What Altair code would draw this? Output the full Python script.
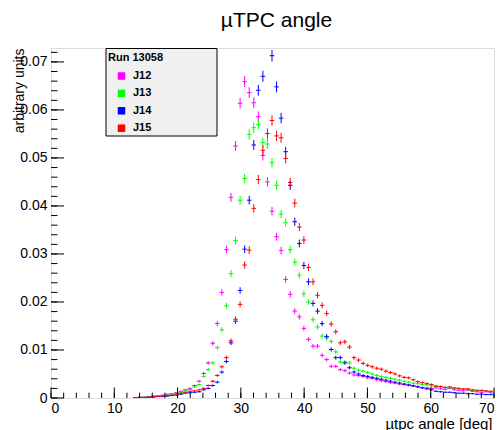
import altair as alt
import pandas as pd
import numpy as np

SERIES = ["J12", "J13", "J14", "J15"]
COLORS = ["#ff00ff", "#00ff00", "#0000ff", "#ff0000"]

# histogram bins: width 0.72 deg, bin index j -> center 0.36 + 0.72*j
BIN_WIDTH = 0.72
BIN_INDEX = list(range(18, 97))

J12 = [0.0001, 0.0002, 0.0002, 0.0003, 0.0004, 0.0005, 0.0006, 0.0008, 0.0009, 0.0011, 0.0014,
       0.0017, 0.0020, 0.0026, 0.0035, 0.0051, 0.0073, 0.0114, 0.0155, 0.0220, 0.0309, 0.0418, 0.0525,
       0.0614, 0.0659, 0.0636, 0.0615, 0.0586, 0.0505, 0.0450, 0.0389, 0.0336, 0.0307, 0.0247, 0.0216,
       0.0181, 0.0169, 0.0145, 0.0122, 0.0108, 0.0108, 0.0089, 0.0080, 0.0066, 0.0066, 0.0059, 0.0057,
       0.0052, 0.0048, 0.0047, 0.0045, 0.0042, 0.0041, 0.0038, 0.0036, 0.0034, 0.0032, 0.0031, 0.0029,
       0.0028, 0.0027, 0.0026, 0.0024, 0.0022, 0.0021, 0.0020, 0.0021, 0.0019, 0.0018, 0.0020, 0.0017,
       0.0016, 0.0015, 0.0016, 0.0014, 0.0013, 0.0012, 0.0013, 0.0011]
J13 = [0.0001, 0.0001, 0.0002, 0.0002, 0.0003, 0.0004, 0.0005, 0.0006, 0.0008, 0.0010, 0.0012,
       0.0015, 0.0018, 0.0023, 0.0028, 0.0045, 0.0059, 0.0073, 0.0105, 0.0142, 0.0192, 0.0259, 0.0328,
       0.0412, 0.0457, 0.0549, 0.0563, 0.0570, 0.0532, 0.0529, 0.0490, 0.0443, 0.0383, 0.0365, 0.0309,
       0.0283, 0.0256, 0.0217, 0.0200, 0.0163, 0.0148, 0.0129, 0.0125, 0.0118, 0.0096, 0.0075, 0.0075,
       0.0073, 0.0062, 0.0058, 0.0056, 0.0053, 0.0050, 0.0047, 0.0045, 0.0043, 0.0041, 0.0039, 0.0037,
       0.0035, 0.0033, 0.0031, 0.0030, 0.0028, 0.0027, 0.0025, 0.0024, 0.0023, 0.0022, 0.0021, 0.0020,
       0.0019, 0.0018, 0.0017, 0.0016, 0.0015, 0.0015, 0.0014, 0.0013]
J14 = [0.0001, 0.0001, 0.0001, 0.0002, 0.0002, 0.0003, 0.0003, 0.0004, 0.0005, 0.0006, 0.0008,
       0.0010, 0.0011, 0.0012, 0.0013, 0.0017, 0.0020, 0.0026, 0.0033, 0.0054, 0.0076, 0.0115, 0.0160,
       0.0224, 0.0310, 0.0412, 0.0527, 0.0641, 0.0670, 0.0745, 0.0713, 0.0648, 0.0583, 0.0513, 0.0443,
       0.0367, 0.0322, 0.0276, 0.0242, 0.0197, 0.0181, 0.0155, 0.0128, 0.0101, 0.0084, 0.0084, 0.0073,
       0.0063, 0.0054, 0.0050, 0.0047, 0.0045, 0.0043, 0.0041, 0.0039, 0.0037, 0.0035, 0.0033, 0.0031,
       0.0029, 0.0027, 0.0025, 0.0023, 0.0021, 0.0019, 0.0017, 0.0014, 0.0013, 0.0012, 0.0012, 0.0011,
       0.0010, 0.0010, 0.0009, 0.0009, 0.0008, 0.0008, 0.0007, 0.0007]
J15 = [0.0001, 0.0001, 0.0001, 0.0002, 0.0003, 0.0003, 0.0004, 0.0005, 0.0006, 0.0008, 0.0010,
       0.0012, 0.0014, 0.0015, 0.0017, 0.0020, 0.0026, 0.0035, 0.0047, 0.0065, 0.0084, 0.0119, 0.0164,
       0.0195, 0.0277, 0.0308, 0.0395, 0.0455, 0.0516, 0.0551, 0.0578, 0.0546, 0.0542, 0.0499, 0.0449,
       0.0406, 0.0356, 0.0329, 0.0272, 0.0242, 0.0214, 0.0193, 0.0176, 0.0154, 0.0138, 0.0115, 0.0117,
       0.0106, 0.0084, 0.0079, 0.0072, 0.0068, 0.0065, 0.0062, 0.0060, 0.0056, 0.0053, 0.0050, 0.0046,
       0.0043, 0.0042, 0.0038, 0.0034, 0.0032, 0.0030, 0.0028, 0.0025, 0.0024, 0.0022, 0.0023, 0.0021,
       0.0020, 0.0019, 0.0019, 0.0017, 0.0016, 0.0016, 0.0015, 0.0014]

X_MAJOR = [0, 10, 20, 30, 40, 50, 60, 70]
X_MINOR = list(range(0, 71, 2))
Y_MAJOR = [0, 0.01, 0.02, 0.03, 0.04, 0.05, 0.06, 0.07]
Y_MINOR = [i / 1000 for i in range(0, 73, 2)]

ERR_SCALE = 0.0045  # statistical error ~ sqrt(content)

rows = []
for name, vals in zip(SERIES, [J12, J13, J14, J15]):
    for j, v in zip(BIN_INDEX, vals):
        c = BIN_WIDTH / 2 + BIN_WIDTH * j
        e = ERR_SCALE * np.sqrt(v)
        rows.append(dict(series=name, c=c, x1=c - BIN_WIDTH / 2, x2=c + BIN_WIDTH / 2,
                         v=v, lo=v - e, hi=v + e))
df = pd.DataFrame(rows)

FONT = "Liberation Sans"
W, H = 443, 350
xscale = alt.Scale(domain=[0, 70], nice=False, zero=False)
yscale = alt.Scale(domain=[0, 0.0729], nice=False, zero=False)
cscale = alt.Scale(domain=SERIES, range=COLORS)

xaxis = alt.Axis(values=X_MAJOR, ticks=False, domain=False, grid=False, labelFontSize=14,
                 labelFont=FONT, labelColor="black", labelPadding=3,
                 title="µtpc angle [deg]", titleFont=FONT, titleFontSize=15, titleFontWeight="normal",
                 titleColor="black", titleX=W - 2, titleY=30, titleAlign="right",
                 titleBaseline="alphabetic")
yaxis = alt.Axis(values=Y_MAJOR, ticks=False, domain=False, grid=False, labelFontSize=14,
                 labelFont=FONT, labelColor="black", labelPadding=4,
                 labelExpr="datum.value == 0 ? '0' : format(datum.value, '.2f')",
                 title="arbitrary units", titleFont=FONT, titleFontSize=14, titleFontWeight="normal",
                 titleColor="black", titleX=-28, titleY=0, titleAngle=-90, titleAlign="right",
                 titleBaseline="alphabetic")
legend = alt.Legend(title="Run 13058", orient="none", legendX=57, legendY=4, padding=0,
                    titleFont=FONT, titleFontSize=11, titleFontWeight="bold", titleColor="black",
                    titlePadding=7.5, labelFont=FONT, labelFontSize=11, labelFontWeight="bold",
                    labelColor="black", symbolType="square", symbolSize=56, symbolStrokeWidth=0,
                    symbolOpacity=1, symbolOffset=8, labelOffset=6, rowPadding=5.4)

# legend carrier: filled squares (no data drawn) so the legend shows filled boxes
keys = alt.Chart(df).transform_filter("false").mark_square(filled=True, size=56, opacity=1).encode(
    x=alt.X("c:Q", scale=xscale, axis=xaxis),
    y=alt.Y("v:Q", scale=yscale, axis=yaxis),
    color=alt.Color("series:N", scale=cscale, legend=legend),
)
hbar = alt.Chart(df).mark_rule(strokeWidth=1, clip=True).encode(
    x=alt.X("x1:Q", scale=xscale, axis=xaxis),
    x2="x2:Q",
    y=alt.Y("v:Q", scale=yscale, axis=yaxis),
    color=alt.Color("series:N", scale=cscale, legend=None),
)
vbar = alt.Chart(df).mark_rule(strokeWidth=1, clip=True).encode(
    x=alt.X("c:Q", scale=xscale),
    y=alt.Y("lo:Q", scale=yscale),
    y2="hi:Q",
    color=alt.Color("series:N", scale=cscale, legend=None),
)

xmaj = alt.Chart(pd.DataFrame({"t": X_MAJOR})).mark_rule(color="black", strokeWidth=1).encode(
    x=alt.X("t:Q", scale=xscale), y=alt.value(H), y2=alt.value(H - 10.5))
xmin = alt.Chart(pd.DataFrame({"t": X_MINOR})).mark_rule(color="black", strokeWidth=1).encode(
    x=alt.X("t:Q", scale=xscale), y=alt.value(H), y2=alt.value(H - 5.3))
ymaj = alt.Chart(pd.DataFrame({"t": Y_MAJOR})).mark_rule(color="black", strokeWidth=1).encode(
    y=alt.Y("t:Q", scale=yscale), x=alt.value(0), x2=alt.value(13))
ymin = alt.Chart(pd.DataFrame({"t": Y_MINOR})).mark_rule(color="black", strokeWidth=1).encode(
    y=alt.Y("t:Q", scale=yscale), x=alt.value(0), x2=alt.value(6.5))

box = alt.Chart(pd.DataFrame({"a": [0]})).mark_rect(
    fill="#f0f0f0", stroke="black", strokeWidth=1).encode(
    x=alt.value(55), x2=alt.value(166), y=alt.value(0.5), y2=alt.value(88))

chart = alt.layer(keys, hbar, vbar, xmaj, xmin, ymaj, ymin, box).properties(
    width=W, height=H,
    title=alt.TitleParams("µTPC angle", font=FONT, fontSize=21, fontWeight="normal",
                          color="black", anchor="middle", offset=17, dx=4),
    autosize=alt.AutoSizeParams(type="none"),
    padding={"left": 51, "top": 48, "right": 9, "bottom": 32},
).configure_view(stroke="black", strokeWidth=1).configure(background="white")

chart.save("out.html", embed_options={"renderer": "svg", "actions": False})
